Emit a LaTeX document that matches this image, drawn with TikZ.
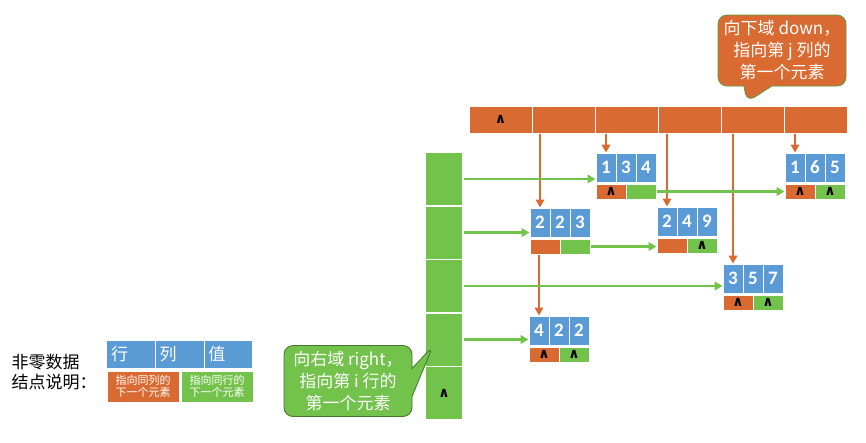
\documentclass[tikz,border=0pt]{standalone}
\usepackage{fontspec}
\setmainfont{Carlito}
\newfontfamily\cjk{Noto Sans CJK SC}
\newfontfamily\symfont{DejaVu Sans}
\usetikzlibrary{arrows.meta,shapes.callouts}
\definecolor{cblue}{HTML}{5B9BD5}
\definecolor{corange}{HTML}{D96A31}
\definecolor{cgreen}{HTML}{72C24B}
\newcommand{\nullmark}{{\symfont\bfseries\fontsize{14}{14}\selectfont ∧}}
% one non-zero element: row, column, value, down, right
\newcommand{\elem}[8]{%
  \node[num] (#1a) at (#2+10,#3+14.5) {#4};
  \node[num] (#1b) at (#2+30,#3+14.5) {#5};
  \node[num] (#1c) at (#2+50,#3+14.5) {#6};
  \node[dn] (#1d) at (#2+15,#3+38.5) {#7};
  \node[rt] (#1r) at (#2+45,#3+38.5) {#8};
}

\begin{document}
\begin{tikzpicture}[x=1pt,y=-1pt,
cellbase/.style = {draw=white, line width=1pt, inner sep=0pt},
num/.style = {cellbase, fill=cblue, minimum width=20, minimum height=29,
  text=white, font=\bfseries\fontsize{19}{19}\selectfont},
dn/.style = {cellbase, fill=corange, minimum width=30, minimum height=15},
rt/.style = {cellbase, fill=cgreen, minimum width=30, minimum height=15},
head/.style = {cellbase, fill=corange, minimum width=63, minimum height=27},
rowcell/.style = {cellbase, line width=1.5pt, fill=cgreen, minimum width=38, minimum height=53.5},
garrow/.style = {cgreen, line width=2.8pt, -{Triangle[length=8pt,width=8.5pt]}},
oarrow/.style = {corange, line width=2.8pt, -{Triangle[length=8pt,width=8.5pt]}},
note/.style = {rectangle callout, rounded corners=9pt, align=center, text=white,
  minimum width=128, minimum height=71, inner sep=2pt, callout pointer width=28pt,
  font=\cjk\fontsize{17}{22}\selectfont}]
\useasboundingbox (0,0) rectangle (866,442);

% column heads and row heads
\node[head] (h1) at (500.5,119.5) {\nullmark};
\foreach \i in {2,...,6}
  \node[head] (h\i) at (437.5+63*\i,119.5) {};
\foreach \i in {1,...,4}
  \node[rowcell] (r\i) at (444,125.5+53.5*\i) {};
\node[rowcell] (r5) at (444,393) {\nullmark};

% elements
\elem{e134}{596}{153}{1}{3}{4}{\nullmark}{}
\elem{e165}{785}{153}{1}{6}{5}{\nullmark}{\nullmark}
\elem{e223}{530}{208}{2}{2}{3}{}{}
\elem{e249}{657}{207}{2}{4}{9}{}{\nullmark}
\elem{e357}{723}{264}{3}{5}{7}{\nullmark}{\nullmark}
\elem{e422}{529}{316}{4}{2}{2}{\nullmark}{\nullmark}

% down links
\draw[oarrow] (h2.south -| e223a) -- (e223a.north);
\draw[oarrow] (h3.south -| e134a) -- (e134a.north);
\draw[oarrow] (h4.south -| e249a) -- (e249a.north);
\draw[oarrow] (h5.south -| e357a) -- (e357a.north);
\draw[oarrow] (h6.south -| e165a) -- (e165a.north);
\draw[oarrow] (e223d.south -| e422a) -- (e422a.north);

% right links
\draw[garrow] (r1.east) -- (r1.east -| e134a.west);
\draw[garrow] (r2.east) -- (r2.east -| e223a.west);
\draw[garrow] (r3.east) -- (r3.east -| e357a.west);
\draw[garrow] (r4.east) -- (r4.east -| e422a.west);
\draw[garrow] (e134r.east) -- (e165d.west);
\draw[garrow] (e223r.east) -- (e223r.east -| e249d.west);

% callouts
\coordinate (tipd) at (747,102);
\coordinate (tipr) at (433,346);
\node[note, fill=corange, draw=cgreen!80!black, line width=0.8pt,
  callout absolute pointer={(tipd)}] (cdown) at (782,50.5)
  {向下域 down，\\指向第 j 列的\\第一个元素};
\node[note, fill=cgreen, draw=cgreen!60!black, line width=0.8pt,
  callout absolute pointer={(tipr)}] (cright) at (348,381)
  {向右域 right，\\指向第 i 行的\\第一个元素};

% legend
\node[anchor=west, align=left, font=\cjk\fontsize{17}{20}\selectfont] (legend) at (8,372)
  {非零数据\\结点说明：};
\foreach \t [count=\i] in {行,列,值}
  \node[cellbase, fill=cblue, minimum height=28, text width=40, inner xsep=4.3pt,
    align=left, text=white, font=\cjk\fontsize{17}{17}\selectfont] (lb\i)
    at (82.3+48.7*\i,354) {\t};
\node[cellbase, fill=corange, minimum width=72, minimum height=31, align=center,
  text=white, font=\cjk\fontsize{11}{11.5}\selectfont] (ld) at (143,386.5)
  {指向同列的\\下一个元素};
\node[cellbase, fill=cgreen, minimum width=72, minimum height=31, align=center,
  text=white, font=\cjk\fontsize{11}{11.5}\selectfont] (lr) at (217,386.5)
  {指向同行的\\下一个元素};
\end{tikzpicture}
\end{document}
